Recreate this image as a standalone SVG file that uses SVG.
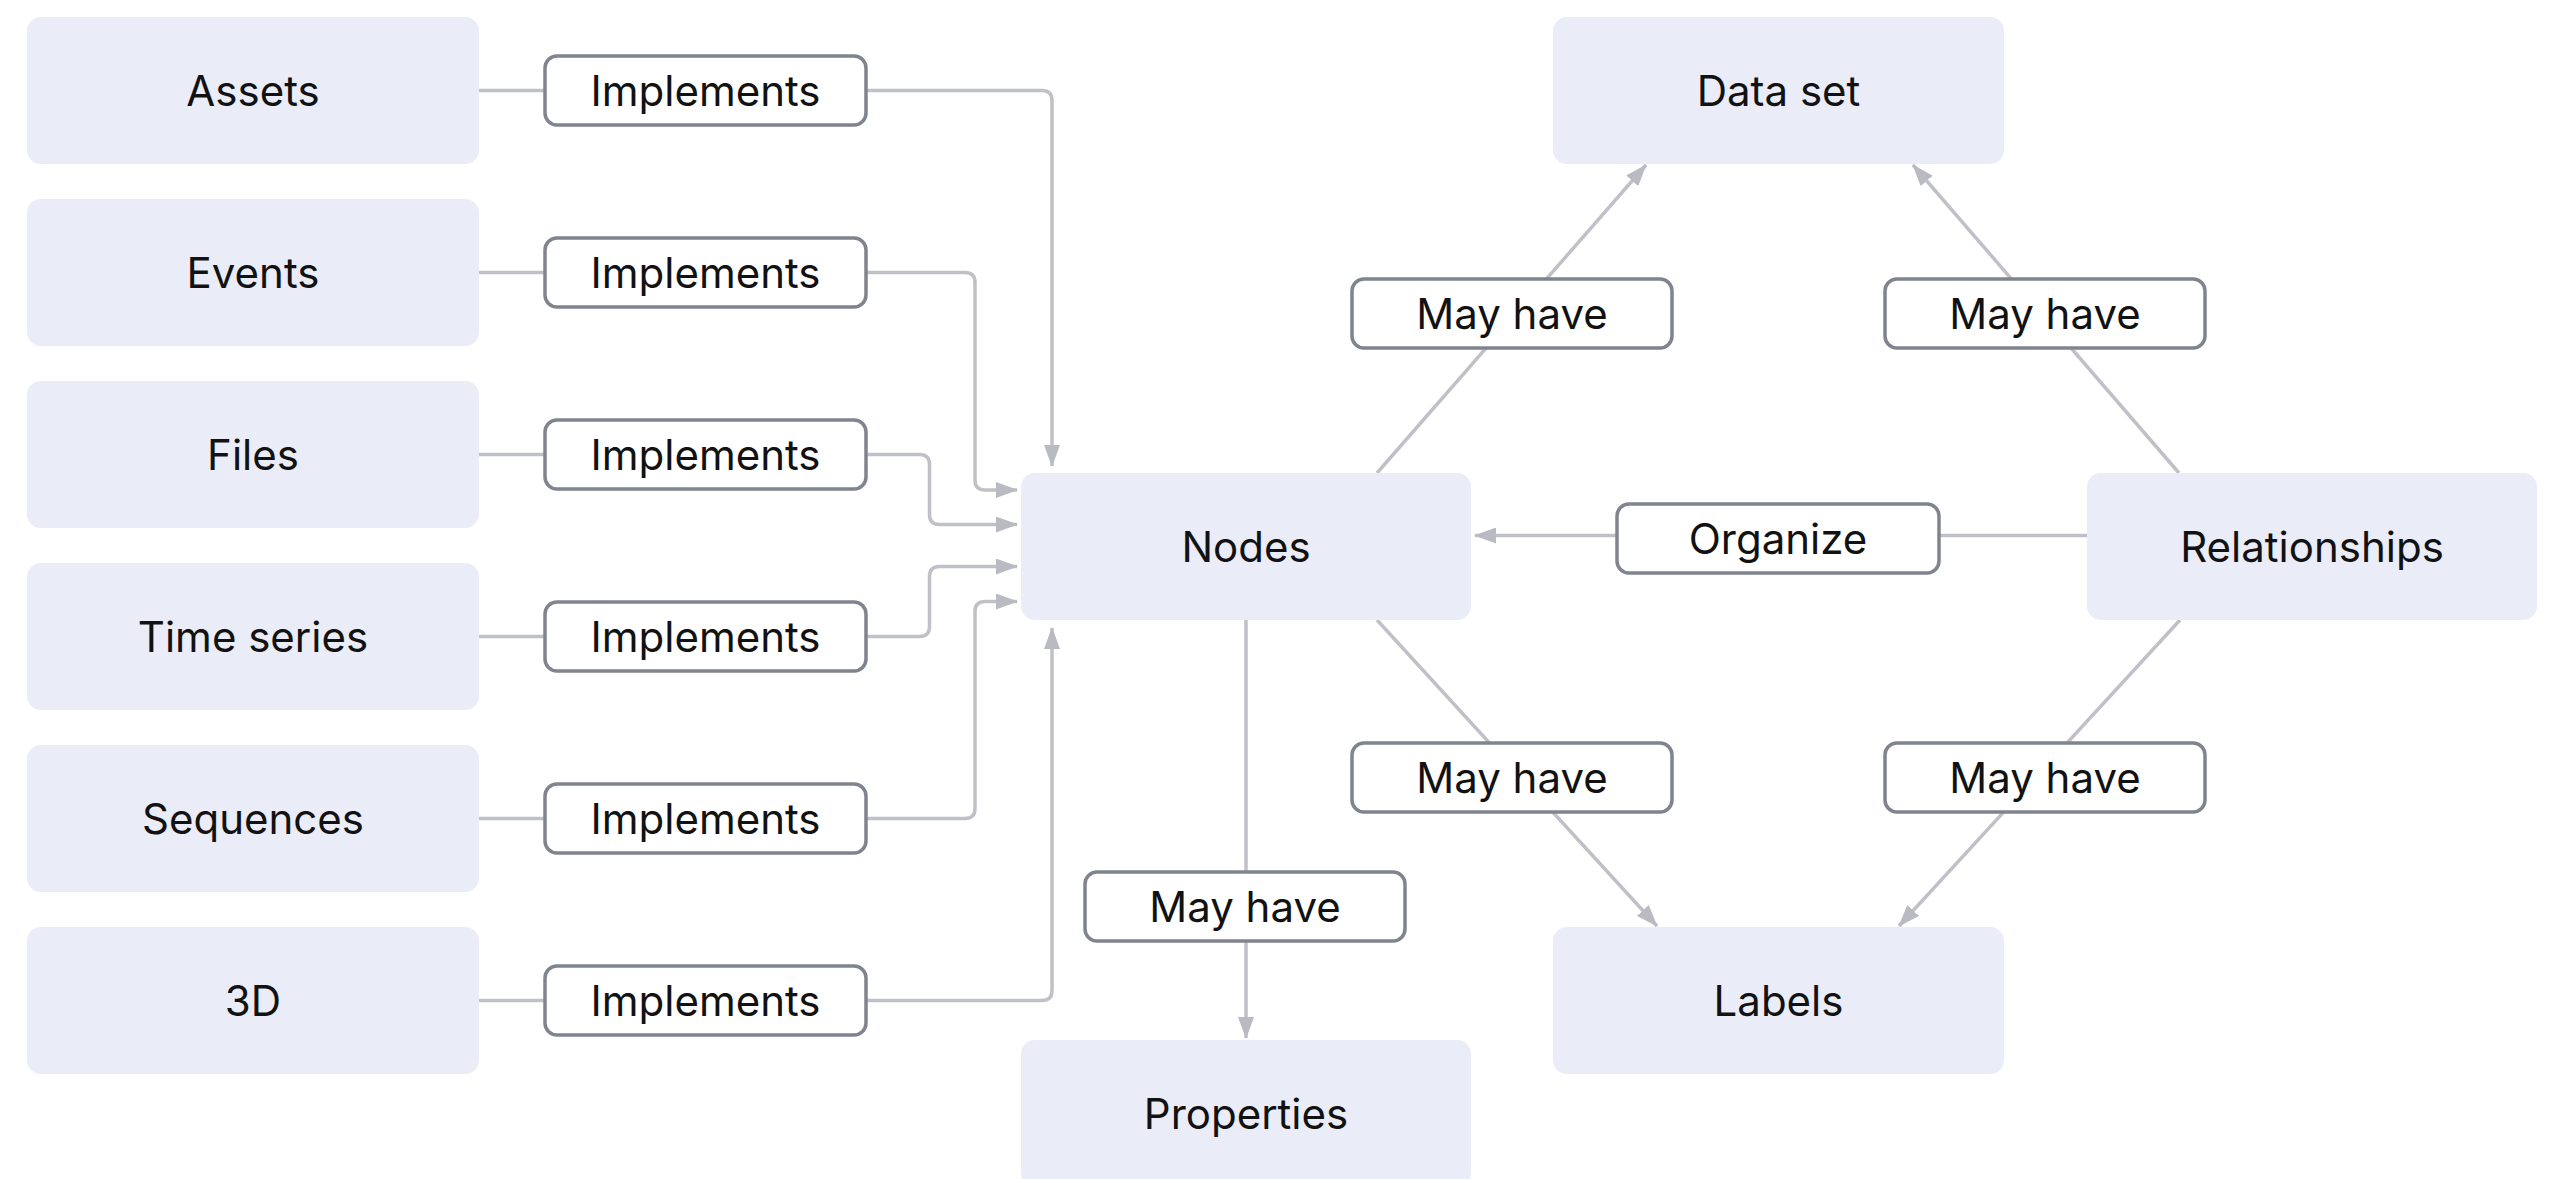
<svg xmlns="http://www.w3.org/2000/svg" width="2549" height="1179" viewBox="0 0 2549 1179">
  <style>
    .node rect { fill: #eaecf8; }
    .lbl rect { fill: #ffffff; stroke: #80848f; stroke-width: 3.5; }
    text { font-family: Inter, "Noto Sans", "Liberation Sans", sans-serif; font-size: 42px; fill: #121212; text-anchor: middle; dominant-baseline: central; }
    .conn path { fill: none; stroke: #c0c1c8; stroke-width: 3.5; }
  </style>
  <defs>
    <marker id="arr" markerUnits="userSpaceOnUse" markerWidth="22" markerHeight="16" refX="21" refY="8" orient="auto">
      <path d="M0,0 L22,8 L0,16 z" fill="#b9bac2"/>
    </marker>
  </defs>
  <rect width="2549" height="1179" fill="#ffffff"/>

  <g id="connectors" class="conn">
    <path d="M479,90.5 H545"/>
    <path d="M479,272.5 H545"/>
    <path d="M479,454.5 H545"/>
    <path d="M479,636.5 H545"/>
    <path d="M479,818.5 H545"/>
    <path d="M479,1000.5 H545"/>
    <path d="M866,90.5 H1042 Q1052,90.5 1052,100.5 V466" marker-end="url(#arr)"/>
    <path d="M866,272.5 H965 Q975,272.5 975,282.5 V480 Q975,490 985,490 H1017" marker-end="url(#arr)"/>
    <path d="M866,454.5 H919.5 Q929.5,454.5 929.5,464.5 V514.5 Q929.5,524.5 939.5,524.5 H1017" marker-end="url(#arr)"/>
    <path d="M866,636.5 H919.5 Q929.5,636.5 929.5,626.5 V576.5 Q929.5,566.5 939.5,566.5 H1017" marker-end="url(#arr)"/>
    <path d="M866,818.5 H965 Q975,818.5 975,808.5 V611.5 Q975,601.5 985,601.5 H1017" marker-end="url(#arr)"/>
    <path d="M866,1000.5 H1042 Q1052,1000.5 1052,990.5 V628" marker-end="url(#arr)"/>
    <path d="M1377,473 L1646,165" marker-end="url(#arr)"/>
    <path d="M2179,473 L1913,165" marker-end="url(#arr)"/>
    <path d="M1377,620 L1657,926" marker-end="url(#arr)"/>
    <path d="M2180,620 L1899,926" marker-end="url(#arr)"/>
    <path d="M1246,620 V1038" marker-end="url(#arr)"/>
    <path d="M2087,535.5 H1475" marker-end="url(#arr)"/>
  </g>

  <g id="assets" class="node"><rect x="27" y="17" width="452" height="147" rx="14"/><text x="253" y="90.5">Assets</text></g>
  <g id="events" class="node"><rect x="27" y="199" width="452" height="147" rx="14"/><text x="253" y="272.5">Events</text></g>
  <g id="files" class="node"><rect x="27" y="381" width="452" height="147" rx="14"/><text x="253" y="454.5">Files</text></g>
  <g id="timeseries" class="node"><rect x="27" y="563" width="452" height="147" rx="14"/><text x="253" y="636.5">Time series</text></g>
  <g id="sequences" class="node"><rect x="27" y="745" width="452" height="147" rx="14"/><text x="253" y="818.5">Sequences</text></g>
  <g id="threed" class="node"><rect x="27" y="927" width="452" height="147" rx="14"/><text x="253" y="1000.5">3D</text></g>
  <g id="nodes" class="node"><rect x="1021" y="473" width="450" height="147" rx="14"/><text x="1246" y="546.5">Nodes</text></g>
  <g id="dataset" class="node"><rect x="1553" y="17" width="451" height="147" rx="14"/><text x="1778.5" y="90.5">Data set</text></g>
  <g id="relationships" class="node"><rect x="2087" y="473" width="450" height="147" rx="14"/><text x="2312" y="546.5">Relationships</text></g>
  <g id="labels" class="node"><rect x="1553" y="927" width="451" height="147" rx="14"/><text x="1778.5" y="1000.5">Labels</text></g>
  <g id="properties" class="node"><rect x="1021" y="1040" width="450" height="147" rx="14"/><text x="1246" y="1113.5">Properties</text></g>

  <g id="lbl-assets" class="lbl"><rect x="545" y="56" width="321" height="69" rx="12"/><text x="705.5" y="90.5">Implements</text></g>
  <g id="lbl-events" class="lbl"><rect x="545" y="238" width="321" height="69" rx="12"/><text x="705.5" y="272.5">Implements</text></g>
  <g id="lbl-files" class="lbl"><rect x="545" y="420" width="321" height="69" rx="12"/><text x="705.5" y="454.5">Implements</text></g>
  <g id="lbl-timeseries" class="lbl"><rect x="545" y="602" width="321" height="69" rx="12"/><text x="705.5" y="636.5">Implements</text></g>
  <g id="lbl-sequences" class="lbl"><rect x="545" y="784" width="321" height="69" rx="12"/><text x="705.5" y="818.5">Implements</text></g>
  <g id="lbl-3d" class="lbl"><rect x="545" y="966" width="321" height="69" rx="12"/><text x="705.5" y="1000.5">Implements</text></g>
  <g id="lbl-nodes-dataset" class="lbl"><rect x="1352" y="279" width="320" height="69" rx="12"/><text x="1512" y="313.5">May have</text></g>
  <g id="lbl-rel-dataset" class="lbl"><rect x="1885" y="279" width="320" height="69" rx="12"/><text x="2045" y="313.5">May have</text></g>
  <g id="lbl-nodes-labels" class="lbl"><rect x="1352" y="743" width="320" height="69" rx="12"/><text x="1512" y="777.5">May have</text></g>
  <g id="lbl-rel-labels" class="lbl"><rect x="1885" y="743" width="320" height="69" rx="12"/><text x="2045" y="777.5">May have</text></g>
  <g id="lbl-nodes-props" class="lbl"><rect x="1085" y="872" width="320" height="69" rx="12"/><text x="1245" y="906.5">May have</text></g>
  <g id="lbl-organize" class="lbl"><rect x="1617" y="504" width="322" height="69" rx="12"/><text x="1778" y="538.5">Organize</text></g>
</svg>
